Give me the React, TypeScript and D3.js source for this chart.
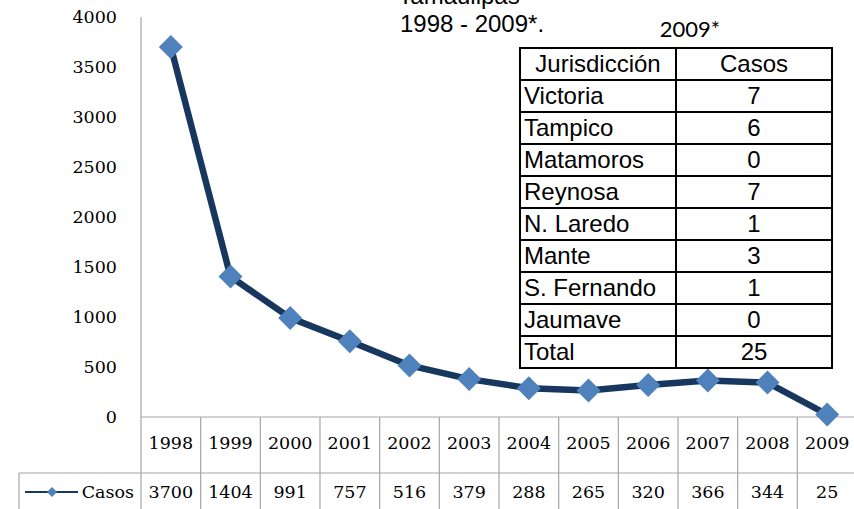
import React from "react";
import * as d3 from "d3";

const years = ["1998","1999","2000","2001","2002","2003","2004","2005","2006","2007","2008","2009"];
const casos = [3700,1404,991,757,516,379,288,265,320,366,344,25];
const yTicks = [0,500,1000,1500,2000,2500,3000,3500,4000];
const jurisdicciones = ["Victoria","Tampico","Matamoros","Reynosa","N. Laredo","Mante","S. Fernando","Jaumave","Total"];
const jurCasos = ["7","6","0","7","1","3","1","0","25"];

const W = 854, H = 509;
const plotL = 141, plotR = 857, plotT = 17, plotB = 417;
const row2 = 473;

export default function App() {
  const x = d3.scaleBand<string>().domain(years).range([plotL, plotR]);
  const y = d3.scaleLinear().domain([0, 4000]).range([plotB, plotT]);
  const line = d3.line<number>().x((_, i) => x(years[i])! + x.bandwidth() / 2).y(d => y(d));
  const diamond = (cx: number, cy: number, r: number) =>
    `M${cx},${cy - r}L${cx + r},${cy}L${cx},${cy + r}L${cx - r},${cy}Z`;
  const serif = "'DejaVu Serif', serif";
  const sans = "'Liberation Sans', Arial, sans-serif";
  const grid = "#a6a6a6";
  const fs = 17.5;
  const tL = 520, tM = 676, tR = 832, tT = 48, rowH = 32;
  const rows = [["Jurisdicción", "Casos"], ...jurisdicciones.map((j, i) => [j, jurCasos[i]])];
  return (
    <svg width={W} height={H} style={{ position: "absolute", left: 0, top: 0, background: "#fff" }}>
      <rect x={0} y={0} width={W} height={H} fill="#fff" />
      {/* y axis */}
      <line x1={plotL} y1={plotT} x2={plotL} y2={H} stroke={grid} strokeWidth={1.2} />
      {yTicks.map(t => (
        <text key={t} x={117} y={y(t)} textAnchor="end" dominantBaseline="central" fontFamily={serif} fontSize={fs} fill="#000">{t}</text>
      ))}
      {/* data table */}
      <line x1={plotL} y1={plotB} x2={W} y2={plotB} stroke={grid} strokeWidth={1.2} />
      <line x1={19} y1={row2} x2={W} y2={row2} stroke={grid} strokeWidth={1.2} />
      <line x1={19} y1={row2} x2={19} y2={H} stroke={grid} strokeWidth={1.2} />
      {years.map((yr, i) => (
        <g key={yr}>
          <line x1={x(yr)! + x.bandwidth()} y1={plotB} x2={x(yr)! + x.bandwidth()} y2={H} stroke={grid} strokeWidth={1.2} />
          <text x={x(yr)! + x.bandwidth() / 2} y={443} textAnchor="middle" dominantBaseline="central" fontFamily={serif} fontSize={fs} fill="#000">{yr}</text>
          <text x={x(yr)! + x.bandwidth() / 2} y={492} textAnchor="middle" dominantBaseline="central" fontFamily={serif} fontSize={fs} fill="#000">{casos[i]}</text>
        </g>
      ))}
      <line x1={25} y1={492} x2={78} y2={492} stroke="#17375e" strokeWidth={2} />
      <path d={diamond(52, 492, 5)} fill="#4f81bd" />
      <text x={134} y={492} textAnchor="end" dominantBaseline="central" fontFamily={serif} fontSize={fs} fill="#000">Casos</text>
      {/* series */}
      <path d={line(casos)!} fill="none" stroke="#17375e" strokeWidth={6.5} strokeLinejoin="round" />
      {casos.map((c, i) => (
        <path key={i} d={diamond(x(years[i])! + x.bandwidth() / 2, y(c), 12)} fill="#4f81bd" />
      ))}
      {/* titles */}
      <text x={459} y={4} textAnchor="middle" fontFamily={sans} fontSize={24} fill="#000">Tamaulipas</text>
      <text x={472} y={32} textAnchor="middle" fontFamily={sans} fontSize={24} fill="#000">1998 - 2009*.</text>
      <text x={690} y={37} textAnchor="middle" fontFamily="Lato, 'Open Sans', sans-serif" fontSize={22} fill="#000">2009*</text>
      {/* inset table */}
      <rect x={tL} y={tT} width={tR - tL} height={rowH * rows.length} fill="#fff" stroke="#000" strokeWidth={2} />
      <line x1={tM} y1={tT} x2={tM} y2={tT + rowH * rows.length} stroke="#000" strokeWidth={2} />
      {rows.map((r, i) => (
        <g key={i}>
          {i > 0 && <line x1={tL} y1={tT + rowH * i} x2={tR} y2={tT + rowH * i} stroke="#000" strokeWidth={2} />}
          <text x={i === 0 ? (tL + tM) / 2 : tL + 4} y={tT + rowH * i + 24} textAnchor={i === 0 ? "middle" : "start"} fontFamily={sans} fontSize={24} fill="#000">{r[0]}</text>
          <text x={(tM + tR) / 2} y={tT + rowH * i + 24} textAnchor="middle" fontFamily={sans} fontSize={24} fill="#000">{r[1]}</text>
        </g>
      ))}
    </svg>
  );
}
